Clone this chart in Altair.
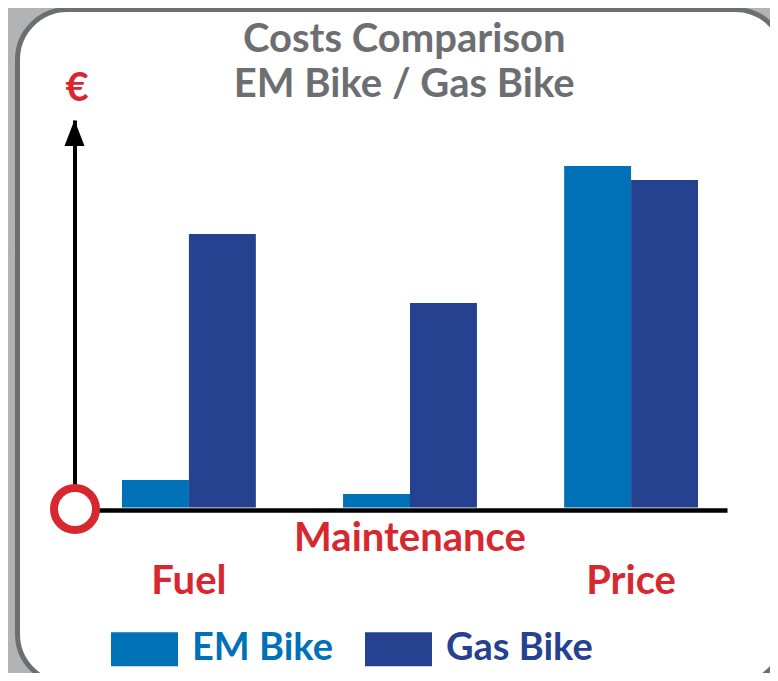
import altair as alt
import pandas as pd

# ---- data ----
categories = ["Fuel", "Maintenance", "Price"]
series = ["EM Bike", "Gas Bike"]
em_values = [7.1, 3.5, 88.1]
gas_values = [70.6, 52.8, 84.5]
y_max = 100

colors = ["#0071B6", "#26418F"]
red = "#D7282F"
gray_text = "#6D6E71"
font = "Lato"

rows = []
for c, e, g in zip(categories, em_values, gas_values):
    rows.append({"category": c, "series": series[0], "value": e})
    rows.append({"category": c, "series": series[1], "value": g})
df = pd.DataFrame(rows)

y_scale = alt.Scale(domain=[0, y_max], range=[498, 110.5], nice=False, zero=True)

bars = alt.Chart(df).mark_bar().encode(
    x=alt.X(
        "category:N",
        sort=categories,
        scale=alt.Scale(range=[57, 709.5], paddingInner=0.3944, paddingOuter=0.1729, align=0.621),
        axis=alt.Axis(
            title=None, orient="bottom", offset=-174,
            domain=True, domainColor="black", domainWidth=4.5, domainCap="butt",
            ticks=False, tickSize=0, grid=False,
            labelAngle=0, labelColor=red, labelFont=font, labelFontSize=40,
            labelFontWeight="bold", labelBaseline="top", labelPadding=8,
            labelLineHeight=43, labelOverlap=False, labelLimit=400,
            labelExpr="datum.value == 'Maintenance' ? datum.label : ['', datum.label]",
        ),
    ),
    xOffset=alt.XOffset("series:N", sort=series),
    y=alt.Y(
        "value:Q",
        scale=y_scale,
        axis=alt.Axis(
            title="€", titleAngle=0, titleX=2, titleY=78.5, titleAlign="center",
            titleBaseline="middle", titleColor=red, titleFont=font, titleFontSize=40,
            titleFontWeight="bold",
            offset=-57, domain=True, domainColor="black", domainWidth=4, domainCap="butt",
            ticks=False, tickSize=0, labels=False, grid=False,
        ),
    ),
    color=alt.Color(
        "series:N",
        sort=series,
        scale=alt.Scale(domain=series, range=colors),
        legend=alt.Legend(
            title=None, orient="none", legendX=93.5, legendY=606, direction="horizontal",
            symbolType="M-1,-0.507H1V0.507H-1Z", symbolSize=4489, symbolStrokeWidth=0,
            symbolOpacity=1, labelFont=font, labelFontSize=38, labelFontWeight="bold",
            labelColor=alt.ExprRef(expr="datum.label == 'EM Bike' ? '#0071B6' : '#26418F'"),
            labelOffset=14, columnPadding=26, gridAlign="all", padding=0, labelLimit=400,
        ),
    ),
)

arrow = alt.Chart(pd.DataFrame({"value": [y_max]})).mark_point(
    shape="M0,0L0.77,2L-0.77,2Z", size=676, filled=True, color="black", opacity=1
).encode(
    x=alt.value(57),
    y=alt.Y("value:Q", scale=y_scale),
)

origin = alt.Chart(pd.DataFrame({"value": [0]})).mark_point(
    shape="circle", size=1764, filled=False, fill="white", stroke=red, strokeWidth=8, opacity=1
).encode(
    x=alt.value(57.5),
    y=alt.Y("value:Q", scale=y_scale),
    yOffset=alt.value(1.5),
)

chart = alt.layer(bars, arrow, origin).properties(
    width=767.5,
    height=674.5,
    autosize=alt.AutoSizeParams(type="none"),
    padding={"left": 9.5, "top": 1.5, "right": -15, "bottom": -11},
    background="#B2B3B5",
    title=alt.TitleParams(
        text=["Costs Comparison", "EM Bike / Gas Bike"],
        font=font, fontSize=40, fontWeight="bold", color=gray_text,
        anchor="middle", frame="group", baseline="bottom", offset=-135.5,
        lineHeight=45, dx=3,
    ),
).configure_view(
    fill="white", stroke=gray_text, strokeWidth=5, cornerRadius=50
)

chart.save("out.html", embed_options={"renderer": "svg", "actions": False})
